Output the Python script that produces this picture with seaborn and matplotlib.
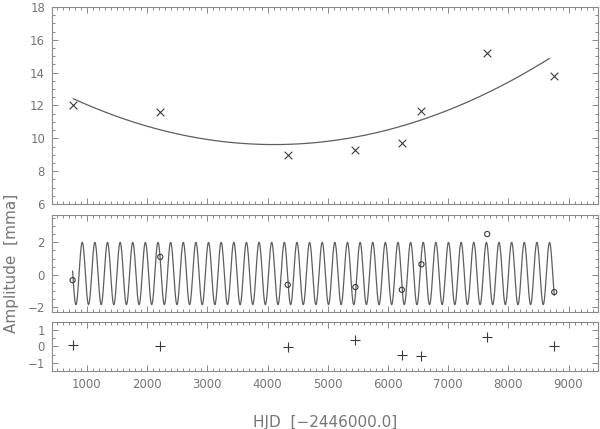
import numpy as np
import pandas as pd
import seaborn as sns
import matplotlib
matplotlib.use("Agg")
import matplotlib.pyplot as plt
from matplotlib.ticker import MultipleLocator

# observation epochs (HJD - 2446000)
hjd = [762, 2218, 4336, 5460, 6231, 6557, 7649, 8763]
# mean amplitude per season [mmag]
amp_mean = [12.05, 11.6, 8.97, 9.27, 9.74, 11.69, 15.22, 13.8]
# amplitude after removing the parabola
amp_detr = [-0.34, 1.10, -0.63, -0.77, -0.94, 0.64, 2.52, -1.08]
# residuals after removing the sine
amp_resid = [0.06, 0.04, -0.04, 0.40, -0.52, -0.60, 0.54, 0.04]

# fitted parabola (vertex form) and its plotted range
par_vertex = 4110.0
par_min = 9.62
par_curv = 2.51e-7
par_range = (772, 8684)

# fitted sine
sin_period = 209.8
sin_tmax = 922.0
sin_amp = 1.93
sin_offset = 0.07

line_col = "#5e5e5e"
mark_col = "#3a3a3a"
text_col = "#767676"
spine_col = "#8a8a8a"

sns.set_theme(style="ticks")
plt.rcParams["font.family"] = ["DejaVu Sans"]

fig = plt.figure(figsize=(6, 4.29), dpi=100)
ax1 = fig.add_axes([0.0867, 0.5245, 0.91, 0.4592])
ax2 = fig.add_axes([0.0867, 0.2734, 0.91, 0.2254])
ax3 = fig.add_axes([0.0867, 0.1352, 0.91, 0.1131])

# top: parabola
t_par = np.linspace(par_range[0], par_range[1], 400)
df_par = pd.DataFrame({"t": t_par, "a": par_curv * (t_par - par_vertex) ** 2 + par_min})
sns.lineplot(data=df_par, x="t", y="a", ax=ax1, color=line_col, lw=0.9)
sns.scatterplot(x=hjd, y=amp_mean, ax=ax1, marker="x", s=30, color=mark_col, linewidth=0.8)

# middle: sine
t_sin = np.linspace(hjd[0], hjd[-1], 4000)
df_sin = pd.DataFrame({"t": t_sin,
                       "a": sin_amp * np.cos(2 * np.pi * (t_sin - sin_tmax) / sin_period) + sin_offset})
sns.lineplot(data=df_sin, x="t", y="a", ax=ax2, color=line_col, lw=0.9)
ax2.scatter(hjd, amp_detr, s=14, facecolors="none", edgecolors=mark_col, linewidths=0.8, zorder=3)

# bottom: residuals
sns.scatterplot(x=hjd, y=amp_resid, ax=ax3, marker="+", s=60, color=mark_col, linewidth=0.8)

ax1.set_ylim(6, 18)
ax2.set_ylim(-2.3, 3.7)
ax3.set_ylim(-1.5, 1.45)
ax1.yaxis.set_major_locator(MultipleLocator(2))
ax2.yaxis.set_major_locator(MultipleLocator(2))
ax3.yaxis.set_major_locator(MultipleLocator(1))

for ax in (ax1, ax2, ax3):
    ax.set_xlim(420, 9490)
    ax.xaxis.set_major_locator(MultipleLocator(1000))
    ax.xaxis.set_minor_locator(MultipleLocator(100))
    ax.yaxis.set_minor_locator(MultipleLocator(0.5))
    ax.tick_params(which="both", direction="in", top=True, right=True,
                   colors=spine_col, labelcolor=text_col, labelsize=8.5, width=0.7, pad=5)
    ax.tick_params(which="major", length=4)
    ax.tick_params(which="minor", length=2)
    for sp in ax.spines.values():
        sp.set_color(spine_col)
        sp.set_linewidth(0.8)
    ax.set_xlabel("")
    ax.set_ylabel("")

ax1.tick_params(labelbottom=False)
ax2.tick_params(labelbottom=False)

ax2.set_ylabel("Amplitude  [mma]", color=text_col, fontsize=11, labelpad=6)
ax3.set_xlabel("HJD  [\u22122446000.0]", color=text_col, fontsize=11, labelpad=17)

fig.savefig("out.png", dpi=100)
